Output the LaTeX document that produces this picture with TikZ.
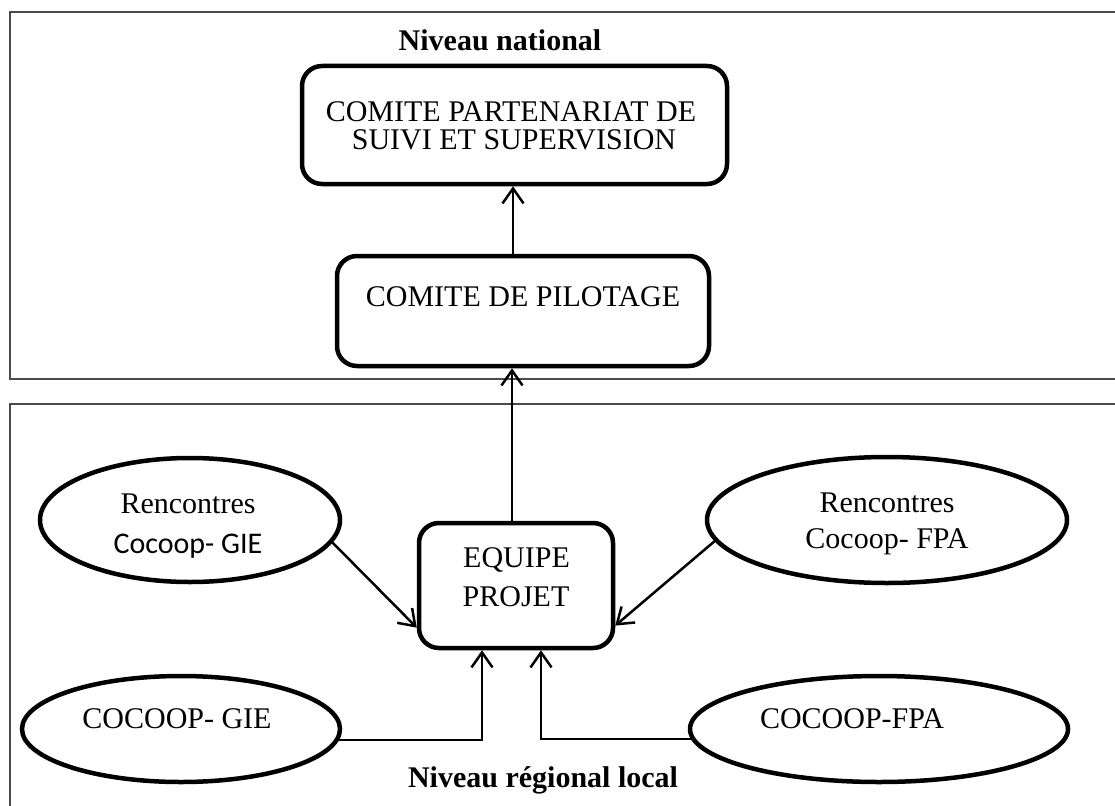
\documentclass[tikz,border=0pt]{standalone}
\usepackage{fontspec}
\setmainfont{Liberation Serif}
\newfontfamily\carlito{Carlito}
\usetikzlibrary{shapes.geometric,arrows.meta}
\begin{document}
\begin{tikzpicture}[x=1pt,y=-1pt,
  box/.style={draw, line width=4.5pt, rounded corners=20pt, rectangle, inner sep=0pt},
  oval/.style={draw, line width=4.5pt, ellipse, inner sep=0pt},
  frame/.style={draw=black!70, line width=1.6pt},
  txt/.style={anchor=base, inner sep=0pt, font=\fontsize{30}{34}\selectfont},
  head/.style={anchor=base, inner sep=0pt, font=\fontsize{30}{34}\selectfont\bfseries},
  conn/.style={line width=2.5pt, -{Straight Barb[length=15pt,width=21pt]}}]

\useasboundingbox (0,0) rectangle (1115,805);
\clip (0,0) rectangle (1115,805);
\fill[white] (0,0) rectangle (1115,805);

% level frames
\draw[frame] (10,12) rectangle (1140,379);
\draw[frame] (10,404) rectangle (1140,830);

% national level
\node[head] (natl) at (500,51) {Niveau national};
\node[box, minimum width=425, minimum height=118] (csp) at (514.5,125) {};
\node[txt] (csp1) at (511,122) {COMITE PARTENARIAT DE};
\node[txt] (csp2) at (514,150) {SUIVI ET SUPERVISION};

\node[box, minimum width=372, minimum height=110] (pilot) at (523,311) {};
\node[txt] (pilot1) at (523,306) {COMITE DE PILOTAGE};

% regional / local level
\node[box, minimum width=194, minimum height=125] (equipe) at (516,585.5) {};
\node[txt] (equipe1) at (516.5,567) {EQUIPE};
\node[txt] (equipe2) at (516,606) {PROJET};

\node[oval, minimum width=300, minimum height=124] (rgie) at (190,520) {};
\node[txt] (rgie1) at (188,513) {Rencontres};
\node[txt, font=\fontsize{30}{34}\carlito] (rgie2) at (188,553) {Cocoop- GIE};

\node[oval, minimum width=360, minimum height=126] (rfpa) at (887,520) {};
\node[txt] (rfpa1) at (887,512) {Rencontres};
\node[txt] (rfpa2) at (887,548) {Cocoop- FPA};

\node[oval, minimum width=318, minimum height=106] (cgie) at (181,729) {};
\node[txt] (cgie1) at (177,728) {COCOOP- GIE};

\node[oval, minimum width=378, minimum height=106] (cfpa) at (879,729) {};
\node[txt] (cfpa1) at (852,728) {COCOOP-FPA};

\node[head] (regl) at (543,787) {Niveau régional local};

% connectors
\draw[conn] ([xshift=-10pt]pilot.north) -- ([xshift=-10pt]pilot.north |- csp.south);
\draw[conn] ([xshift=-4pt]equipe.north) -- ([xshift=-4pt]equipe.north |- pilot.south);
\draw[conn] (rgie.-9) -- (equipe.203);
\draw[conn] (rfpa.187.6) -- (equipe.-22);
\draw[conn] (cgie.-4) -| ([xshift=-34pt]equipe.south);
\draw[conn] (cfpa.183) -| ([xshift=25pt]equipe.south);
\end{tikzpicture}
\end{document}
